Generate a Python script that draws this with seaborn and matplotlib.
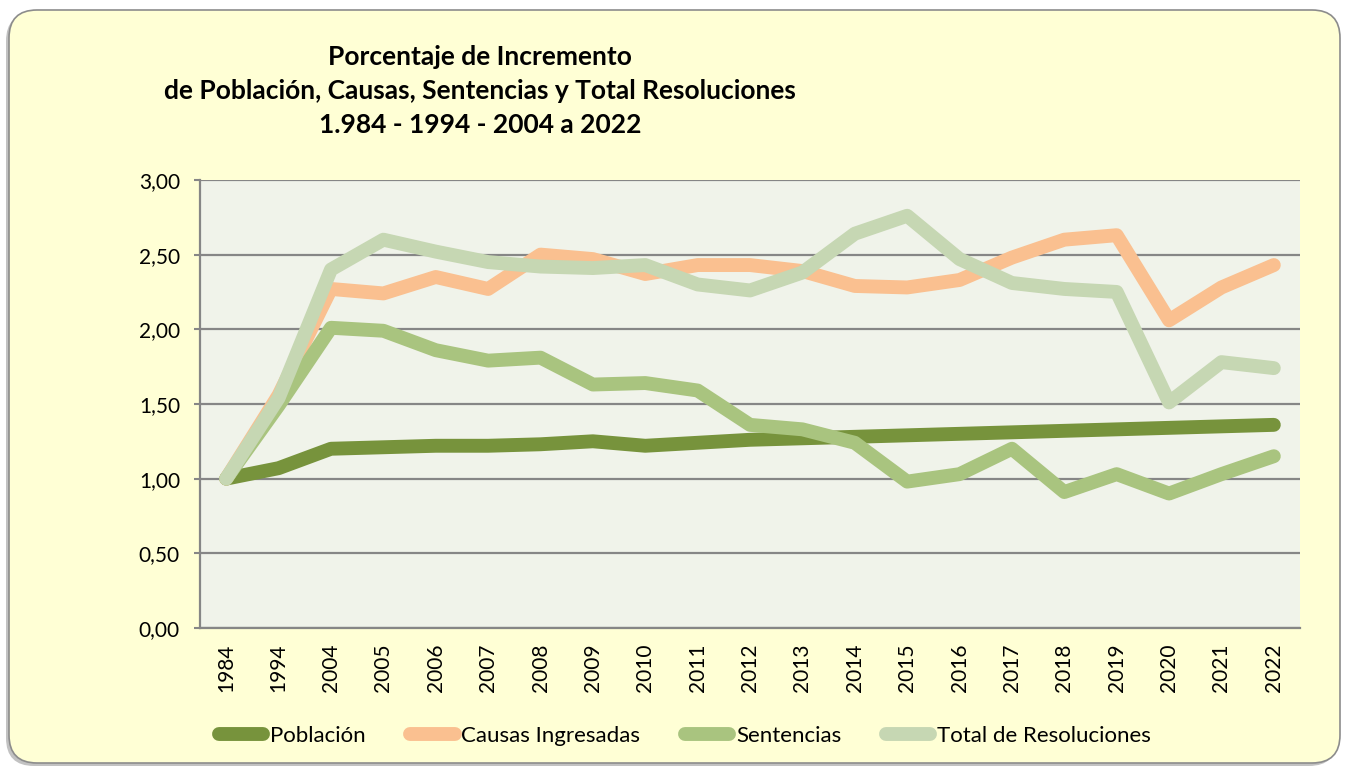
import matplotlib
matplotlib.use('Agg')
import matplotlib.pyplot as plt
import pandas as pd
import seaborn as sns
from matplotlib.lines import Line2D
from matplotlib.patches import FancyBboxPatch
from matplotlib.ticker import FuncFormatter

# Datos
anios = ['1984', '1994', '2004', '2005', '2006', '2007', '2008', '2009', '2010', '2011', '2012',
         '2013', '2014', '2015', '2016', '2017', '2018', '2019', '2020', '2021', '2022']
poblacion = [1.00, 1.07, 1.20, 1.21, 1.22, 1.22, 1.23, 1.25, 1.22, 1.24, 1.26,
             1.27, 1.28, 1.29, 1.30, 1.31, 1.32, 1.33, 1.34, 1.35, 1.36]
causas = [1.00, 1.56, 2.27, 2.24, 2.35, 2.27, 2.50, 2.47, 2.37, 2.43, 2.43,
          2.39, 2.29, 2.28, 2.33, 2.48, 2.60, 2.63, 2.06, 2.28, 2.43]
sentencias = [1.00, 1.49, 2.01, 1.99, 1.86, 1.79, 1.81, 1.63, 1.64, 1.59, 1.36,
              1.33, 1.24, 0.98, 1.03, 1.20, 0.91, 1.03, 0.90, 1.03, 1.15]
total = [1.00, 1.54, 2.40, 2.60, 2.52, 2.45, 2.42, 2.41, 2.43, 2.30, 2.26,
         2.38, 2.64, 2.76, 2.47, 2.31, 2.27, 2.25, 1.51, 1.78, 1.74]

series = ['Población', 'Causas Ingresadas', 'Sentencias', 'Total de Resoluciones']
colores = ['#77933C', '#FAC090', '#A9C47F', '#C6D7B3']

df = pd.DataFrame({'Año': anios * 4,
                   'valor': poblacion + causas + sentencias + total,
                   'serie': [s for s in series for _ in anios]})

sns.set_style('white')
plt.rcParams['font.family'] = ['Lato', 'DejaVu Sans']
plt.rcParams['text.color'] = 'black'
plt.rcParams['xtick.labelcolor'] = 'black'
plt.rcParams['ytick.labelcolor'] = 'black'

fig = plt.figure(figsize=(13.48, 7.66), dpi=100)
fig.patch.set_facecolor('white')

# marco redondeado con sombra
sombra = FancyBboxPatch((0.06, 0.0), 13.31, 7.53, boxstyle='round,pad=0,rounding_size=0.28',
                        transform=fig.dpi_scale_trans, facecolor='#9A9A9A', edgecolor='none',
                        alpha=0.6, zorder=-2)
marco = FancyBboxPatch((0.09, 0.03), 13.31, 7.53, boxstyle='round,pad=0,rounding_size=0.28',
                       transform=fig.dpi_scale_trans, facecolor='#FFFFD5', edgecolor='#8C8C8C',
                       linewidth=1.2, zorder=-1)
fig.patches.extend([sombra, marco])

ax = fig.add_axes([0.1484, 0.1802, 0.8160, 0.5849])
ax.set_facecolor('#F0F3EA')

sns.lineplot(data=df, x='Año', y='valor', hue='serie', palette=colores, linewidth=10,
             legend=False, ax=ax, sort=False,
             solid_capstyle='round', solid_joinstyle='round')

ax.set_xlim(-0.5, len(anios) - 0.5)
ax.set_ylim(0, 3)
ax.set_yticks([0, 0.5, 1, 1.5, 2, 2.5, 3])
ax.yaxis.set_major_formatter(FuncFormatter(lambda v, p: f'{v:.2f}'.replace('.', ',')))
ax.set_xticks(range(len(anios)))
ax.set_xticklabels(anios, rotation=90)
ax.set_xticks([i - 0.5 for i in range(len(anios) + 1)], minor=True)
ax.tick_params(axis='x', which='major', length=0, pad=11, labelsize=15)
ax.tick_params(axis='x', which='minor', direction='inout', length=10, width=1.5, color='#868686')
ax.tick_params(axis='y', direction='out', length=4.5, width=1.5, color='#868686', pad=10,
               labelsize=15, left=True)
ax.grid(axis='y', color='#868686', linewidth=1.6)
ax.set_axisbelow(True)
ax.set_xlabel('')
ax.set_ylabel('')
for lado in ['top', 'right']:
    ax.spines[lado].set_visible(False)
for lado in ['left', 'bottom']:
    ax.spines[lado].set_color('#868686')
    ax.spines[lado].set_linewidth(1.6)

fig.text(0.356, 0.881, 'Porcentaje de Incremento\nde Población, Causas, Sentencias y Total Resoluciones\n1.984 - 1994 - 2004 a 2022',
         ha='center', va='center', fontsize=19, fontweight='bold', linespacing=1.5)

manijas = [Line2D([0], [0], color=c, linewidth=10, solid_capstyle='round') for c in colores]
fig.legend(manijas, series, loc='center', bbox_to_anchor=(0.508, 0.039), ncol=4, frameon=False,
           fontsize=16, handlelength=2.0, handletextpad=0.3, columnspacing=2.0)

fig.savefig('out.png', dpi=100, facecolor=fig.get_facecolor())
